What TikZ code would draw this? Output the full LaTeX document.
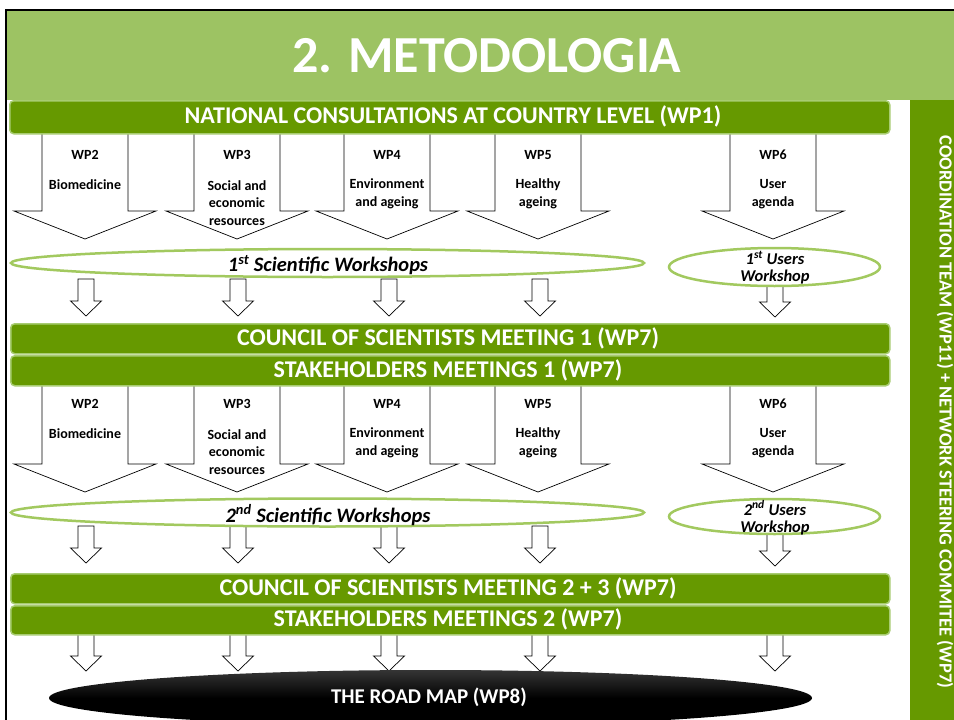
\documentclass[tikz,border=0pt]{standalone}
\usepackage{fontspec}
\setmainfont{Carlito}
\usetikzlibrary{shapes.geometric}
\definecolor{dkgreen}{HTML}{669900}
\definecolor{ltgreen}{HTML}{9DC363}
\definecolor{bandedge}{HTML}{A8CC72}
\definecolor{elgreen}{HTML}{A2C95F}
\pgfdeclareverticalshading{gloss}{100bp}{color(0bp)=(black); color(50bp)=(black); color(80bp)=(black!75); color(100bp)=(black!45)}
\begin{document}
\begin{tikzpicture}[x=1pt,y=-1pt,
  band/.style={draw=bandedge, line width=1.5pt, fill=dkgreen, rounded corners=4pt},
  bandtext/.style={text=white, font=\bfseries\fontsize{24}{24}\selectfont, inner sep=0pt},
  blockarrow/.style={draw=black, line width=0.7pt, fill=white, line join=miter},
  wptext/.style={font=\bfseries\fontsize{14}{17.5}\selectfont, align=center, inner sep=0pt},
  workshop/.style={ellipse, draw=elgreen, line width=2.5pt, fill=white, inner sep=0pt},
  wstext/.style={font=\bfseries\itshape\fontsize{20.5}{20.5}\selectfont, inner sep=0pt},
  ustext/.style={font=\bfseries\itshape\fontsize{16.5}{20}\selectfont, inner sep=0pt},
  pics/bigarr/.style={code={\path[blockarrow] (-43,-4) -- (-43,78) -- (-71,78) -- (0,106) -- (71,78) -- (43,78) -- (43,-4) -- cycle;}},
  pics/smallarr/.style={code={\path[blockarrow] (-8,0) -- (-8,22) -- (-15.5,22) -- (0,37) -- (15.5,22) -- (8,22) -- (8,0) -- cycle;}}
]
\useasboundingbox (0,0) rectangle (954,720);
\fill[white] (0,0) rectangle (954,720);
% title band
\fill[ltgreen] (5,10) rectangle (954,100);
\node[text=white, font=\bfseries\fontsize{52}{52}\selectfont, inner sep=0pt] (title) at (487,56) {2. METODOLOGIA};
% right bar
\fill[dkgreen] (910,100) rectangle (954,720);
\node[rotate=-90, text=white, font=\bfseries\fontsize{18.5}{18.5}\selectfont, inner sep=0pt] (coord) at (945,412) {COORDINATION TEAM (WP11) + NETWORK STEERING COMMITEE (WP7)};

% ---------- set 1 ----------
\foreach \cx in {85,237,387,538,773} { \pic at (\cx,133) {bigarr}; }
\foreach \cx in {86,238,389,540} { \pic at (\cx,279) {smallarr}; }
\pic at (775,280) {smallarr};
\node[band, minimum width=880pt, minimum height=33pt, anchor=north west] (wp1) at (9,100) {};
\node[bandtext] (wp1t) at (453,116.5) {NATIONAL CONSULTATIONS AT COUNTRY LEVEL (WP1)};

\node[wptext] (a2) at (85,155) {WP2};
\node[wptext] (a2t) at (85,185) {Biomedicine};
\node[wptext] (a3) at (237,155) {WP3};
\node[wptext] (a3t) at (237,203) {Social and\\economic\\resources};
\node[wptext] (a4) at (387,155) {WP4};
\node[wptext] (a4t) at (387,194) {Environment\\and ageing};
\node[wptext] (a5) at (538,155) {WP5};
\node[wptext] (a5t) at (538,194) {Healthy\\ageing};
\node[wptext] (a6) at (773,155) {WP6};
\node[wptext] (a6t) at (773,194) {User\\agenda};

\node[workshop, minimum width=633pt, minimum height=28pt] (sw1) at (327.5,263) {};
\node[wstext] (sw1t) at (328,265) {1\textsuperscript{st} Scientific Workshops};
\node[workshop, minimum width=211pt, minimum height=38pt] (uw1) at (774.5,267) {};
\node[ustext] (uw1a) at (775,258) {1\textsuperscript{st} Users};
\node[ustext] (uw1b) at (775,277) {Workshop};

\node[band, minimum width=879pt, minimum height=30pt, anchor=north west] (cs1) at (10,323) {};
\node[bandtext] (cs1t) at (448,338) {COUNCIL OF SCIENTISTS MEETING 1 (WP7)};

% ---------- set 2 ----------
\foreach \cx in {85,237,387,538,773} { \pic at (\cx,386) {bigarr}; }
\foreach \cx in {86,238,389,540} { \pic at (\cx,526) {smallarr}; }
\pic at (775,529) {smallarr};
\node[band, minimum width=879pt, minimum height=30pt, anchor=north west] (sh1) at (10,355) {};
\node[bandtext] (sh1t) at (448,370) {STAKEHOLDERS MEETINGS 1 (WP7)};

\node[wptext] (b2) at (85,404) {WP2};
\node[wptext] (b2t) at (85,434) {Biomedicine};
\node[wptext] (b3) at (237,404) {WP3};
\node[wptext] (b3t) at (237,452) {Social and\\economic\\resources};
\node[wptext] (b4) at (387,404) {WP4};
\node[wptext] (b4t) at (387,443) {Environment\\and ageing};
\node[wptext] (b5) at (538,404) {WP5};
\node[wptext] (b5t) at (538,443) {Healthy\\ageing};
\node[wptext] (b6) at (773,404) {WP6};
\node[wptext] (b6t) at (773,443) {User\\agenda};

\node[workshop, minimum width=633pt, minimum height=28pt] (sw2) at (327.5,512.5) {};
\node[wstext] (sw2t) at (328,515) {2\textsuperscript{nd} Scientific Workshops};
\node[workshop, minimum width=211pt, minimum height=35pt] (uw2) at (774.5,516.5) {};
\node[ustext] (uw2a) at (775,508) {2\textsuperscript{nd} Users};
\node[ustext] (uw2b) at (775,528) {Workshop};

% ---------- set 3 ----------
\foreach \cx in {86,238,389,540,775} { \pic at (\cx,634) {smallarr}; }
\node[band, minimum width=879pt, minimum height=30pt, anchor=north west] (cs2) at (10,573) {};
\node[bandtext] (cs2t) at (448,588) {COUNCIL OF SCIENTISTS MEETING 2 + 3 (WP7)};
\node[band, minimum width=879pt, minimum height=29pt, anchor=north west] (sh2) at (10,605) {};
\node[bandtext] (sh2t) at (448,619.5) {STAKEHOLDERS MEETINGS 2 (WP7)};

\node[ellipse, shading=gloss, minimum width=763pt, minimum height=56pt, inner sep=0pt] (rm) at (430.5,698) {};
\node[text=white, font=\bfseries\fontsize{21}{21}\selectfont, inner sep=0pt] (rmt) at (429,697) {THE ROAD MAP (WP8)};

% frame
\draw[line width=2.5pt, line cap=rect] (954,10) -- (6,10) -- (6,720);
\end{tikzpicture}
\end{document}
